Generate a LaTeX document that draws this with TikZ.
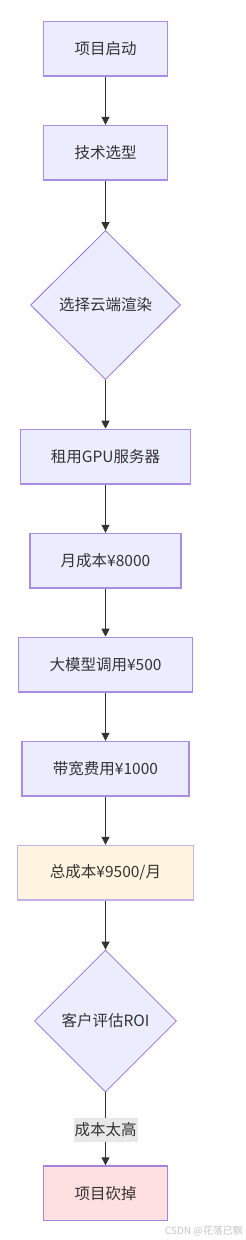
\documentclass[tikz,border=0pt]{standalone}
\usepackage{fontspec}
\setmainfont{Noto Sans CJK SC}
\usetikzlibrary{shapes.geometric,arrows.meta}
\definecolor{boxfill}{HTML}{ECECFF}
\definecolor{boxline}{HTML}{A98DE3}
\definecolor{dialine}{HTML}{9370DB}
\definecolor{costfill}{HTML}{FFF4E0}
\definecolor{costline}{HTML}{C6B0EA}
\definecolor{killfill}{HTML}{FFE0E0}
\definecolor{killline}{HTML}{A285E0}
\definecolor{txt}{HTML}{333333}
\definecolor{lblfill}{HTML}{E8E8E8}
\definecolor{wm}{HTML}{C4C4C4}
\tikzset{
  stepbox/.style={draw=boxline, line width=1.5pt, fill=boxfill, minimum height=54.5pt, inner sep=0pt, text=txt, font=\fontsize{15.5}{18}\selectfont},
  decide/.style={diamond, aspect=1, draw=dialine, line width=0.8pt, fill=boxfill, inner sep=0pt, text=txt, font=\fontsize{15.5}{18}\selectfont},
  flow/.style={draw=txt, line width=1pt, -{Triangle[length=8pt,width=8pt]}},
  edgelbl/.style={fill=lblfill, inner sep=1pt, minimum height=24pt, text=txt, font=\fontsize{15.5}{18}\selectfont}
}
\begin{document}
\begin{tikzpicture}[x=1pt,y=-1pt]
\useasboundingbox (0,0) rectangle (246,1240);
\node[stepbox, minimum width=124pt] (a) at (105.5,48.8) {项目启动};
\node[stepbox, minimum width=124pt] (b) at (105.5,152.8) {技术选型};
\node[decide, minimum width=150pt, minimum height=149pt] (c) at (105.5,305) {选择云端渲染};
\node[stepbox, minimum width=170.4pt] (d) at (105.5,456.7) {租用GPU服务器};
\node[stepbox, minimum width=151pt] (e) at (105.5,560.8) {月成本¥8000};
\node[stepbox, minimum width=174.4pt] (f) at (105.5,664.7) {大模型调用¥500};
\node[stepbox, minimum width=167.3pt] (g) at (105.5,768.8) {带宽费用¥1000};
\node[stepbox, minimum width=175.6pt, fill=costfill, draw=costline] (h) at (105.5,872.8) {总成本¥9500/月};
\node[decide, minimum width=142pt, minimum height=142pt] (i) at (105.5,1021) {客户评估ROI};
\node[stepbox, minimum width=124pt, fill=killfill, draw=killline] (j) at (105.5,1193.3) {项目砍掉};
\draw[flow] (a) -- (b);
\draw[flow] (b) -- (c);
\draw[flow] (c) -- (d);
\draw[flow] (d) -- (e);
\draw[flow] (e) -- (f);
\draw[flow] (f) -- (g);
\draw[flow] (g) -- (h);
\draw[flow] (h) -- (i);
\draw[flow] (i) -- (j);
\node[edgelbl] (k) at (105.5,1129.5) {成本太高};
\node[anchor=east, text=wm, inner sep=0pt, font=\fontsize{10}{12}\selectfont] (w) at (243,1231) {CSDN @花落已飘};
\end{tikzpicture}
\end{document}
